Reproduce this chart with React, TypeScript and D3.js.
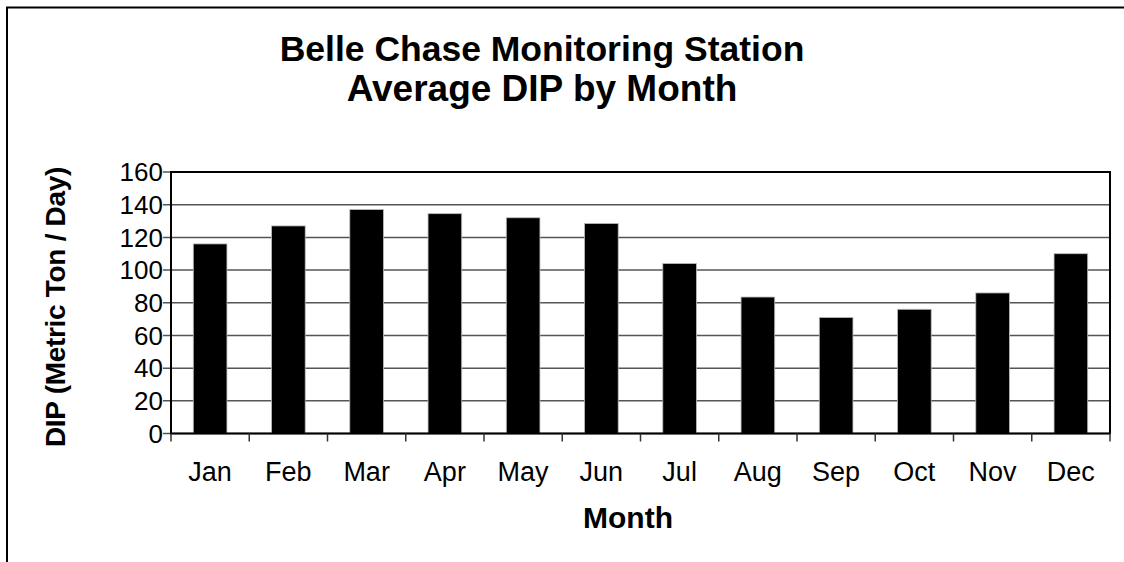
import React from "react";
import * as d3 from "d3";

const months = ["Jan", "Feb", "Mar", "Apr", "May", "Jun", "Jul", "Aug", "Sep", "Oct", "Nov", "Dec"];
const dipValues = [116, 127, 137, 134.5, 132, 128.5, 104, 83.5, 71, 76, 86, 110];
const yTicks = [0, 20, 40, 60, 80, 100, 120, 140, 160];
const titleLines = ["Belle Chase Monitoring Station", "Average DIP by Month"];
const xTitle = "Month";
const yTitle = "DIP (Metric Ton / Day)";

const W = 1124;
const H = 562;
const plot = { left: 171, top: 172, right: 1110, bottom: 433.5 };
const font = "Liberation Sans, Arial, sans-serif";

export default function App() {
  const x = d3.scaleBand<string>().domain(months).range([plot.left, plot.right]).paddingInner(0.57).paddingOuter(0.285);
  const xb = d3.scaleBand<string>().domain(months).range([plot.left, plot.right]).padding(0);
  const y = d3.scaleLinear().domain([0, 160]).range([plot.bottom, plot.top]);

  return (
    <svg width={W} height={H} style={{ position: "absolute", left: 0, top: 0, background: "#fff" }}>
      <rect x={0} y={0} width={W} height={H} fill="#fff" />
      {/* outer frame */}
      <path d={`M7,${H + 5} L7,7.5 L${W + 5},7.5`} fill="none" stroke="#000" strokeWidth={2} />
      {/* title */}
      {titleLines.map((t, i) => (
        <text key={t} x={542} y={61 + i * 40} textAnchor="middle" fontFamily={font} fontWeight="bold" fontSize={i === 0 ? 35.5 : 37} fill="#000">
          {t}
        </text>
      ))}
      {/* gridlines */}
      {yTicks.map((v) => (
        <line key={"g" + v} x1={plot.left - 8} x2={plot.right} y1={y(v)} y2={y(v)} stroke="#555" strokeWidth={1.5} />
      ))}
      {/* bars */}
      {months.map((m, i) => (
        <rect key={m} x={x(m)} y={y(dipValues[i])} width={x.bandwidth()} height={plot.bottom - y(dipValues[i])} fill="#000" stroke="#bbb" strokeWidth={0.8} />
      ))}
      {/* plot border */}
      <rect x={plot.left} y={plot.top} width={plot.right - plot.left} height={plot.bottom - plot.top} fill="none" stroke="#000" strokeWidth={2} />
      {/* x ticks */}
      {months.concat(["_end"]).map((m, i) => {
        const xx = i < months.length ? (xb(m) as number) : plot.right;
        return <line key={"t" + i} x1={xx} x2={xx} y1={plot.bottom} y2={plot.bottom + 8} stroke="#333" strokeWidth={1.5} />;
      })}
      {/* y tick labels */}
      {yTicks.map((v) => (
        <text key={"l" + v} x={163} y={y(v)} dy="0.36em" textAnchor="end" fontFamily={font} fontSize={26} fill="#000">
          {v}
        </text>
      ))}
      {/* x labels */}
      {months.map((m) => (
        <text key={"x" + m} x={(xb(m) as number) + xb.bandwidth() / 2} y={481} textAnchor="middle" fontFamily={font} fontSize={27} fill="#000">
          {m}
        </text>
      ))}
      <text x={628} y={528} textAnchor="middle" fontFamily={font} fontWeight="bold" fontSize={30} fill="#000">
        {xTitle}
      </text>
      <text transform={`translate(65,${307}) rotate(-90)`} textAnchor="middle" fontFamily={font} fontWeight="bold" fontSize={28} fill="#000" letterSpacing={-0.3}>
        {yTitle}
      </text>
    </svg>
  );
}
